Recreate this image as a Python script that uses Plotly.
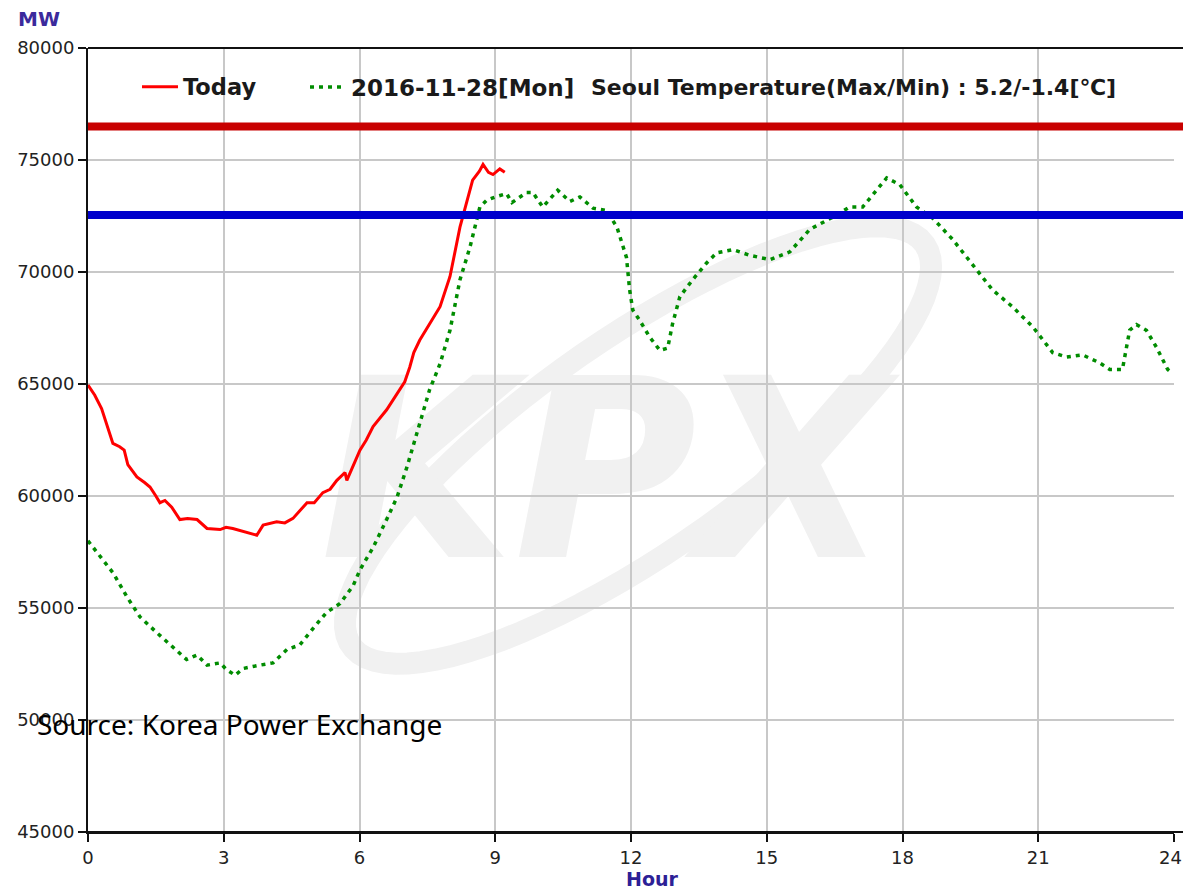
import numpy as np
import plotly.graph_objects as go

# ---------------- data ----------------
today_hours = [0.00, 0.15, 0.30, 0.45, 0.55, 0.70, 0.80, 0.88, 1.08, 1.25, 1.37, 1.50, 1.59, 1.70,
               1.85, 2.03, 2.20, 2.41, 2.63, 2.92, 3.05, 3.20, 3.45, 3.73, 3.87, 4.17, 4.35, 4.53,
               4.84, 5.00, 5.19, 5.35, 5.50, 5.68, 5.72, 6.01, 6.15, 6.30, 6.60, 6.89, 7.00, 7.11,
               7.20, 7.33, 7.55, 7.78, 8.00, 8.22, 8.50, 8.65, 8.73, 8.85, 8.95, 9.10, 9.21]
today_mw = [64950, 64500, 63900, 63000, 62350, 62200, 62050, 61400, 60850, 60600, 60400, 60000, 59700, 59800,
            59500, 58950, 59000, 58950, 58550, 58500, 58600, 58550, 58400, 58250, 58700, 58850, 58800, 59000,
            59700, 59700, 60150, 60300, 60700, 61050, 60700, 62050, 62500, 63100, 63850, 64750, 65100, 65750,
            66400, 66950, 67700, 68450, 69800, 72000, 74100, 74500, 74800, 74450, 74350, 74600, 74450]

prev_hours = [0.00, 0.04, 0.27, 0.56, 0.86, 1.15, 1.52, 1.89, 2.18, 2.41, 2.63, 2.92, 3.06, 3.25, 3.43,
              3.80, 4.09, 4.40, 4.68, 4.98, 5.27, 5.57, 5.86, 6.01, 6.30, 6.60, 6.83, 7.05, 7.33, 7.55,
              7.78, 8.00, 8.22, 8.44, 8.66, 8.81, 9.00, 9.25, 9.37, 9.69, 9.83, 10.05, 10.38, 10.65,
              10.87, 11.16, 11.46, 11.69, 11.90, 11.97, 12.04, 12.19, 12.41, 12.64, 12.81, 12.92,
              13.08, 13.36, 13.67, 13.89, 14.25, 14.62, 15.07, 15.51, 15.95, 16.46, 16.83, 17.12,
              17.65, 17.94, 18.31, 18.67, 19.11, 19.64, 19.99, 20.43, 20.88, 21.32, 21.63, 21.98,
              22.35, 22.58, 22.86, 23.02, 23.17, 23.39, 23.61, 23.86, 23.95]
prev_mw = [58000, 57900, 57300, 56550, 55500, 54600, 53900, 53250, 52700, 52900, 52450, 52550, 52250, 52000, 52300,
           52450, 52550, 53150, 53350, 54100, 54800, 55200, 56000, 56700, 57700, 58950, 59950, 61300, 63250, 64750,
           65900, 67400, 69650, 71100, 72900, 73200, 73350, 73500, 73100, 73550, 73550, 72900, 73650, 73150,
           73350, 72850, 72750, 72000, 70650, 69200, 68300, 67850, 67100, 66500, 66600, 67700,
           68900, 69650, 70400, 70850, 71000, 70750, 70550, 70900, 71900, 72450, 72900, 72900,
           74200, 73900, 72900, 72400, 71450, 70100, 69200, 68450, 67550, 66400, 66200, 66300,
           65950, 65650, 65650, 67400, 67650, 67400, 66650, 65650, 65500]

x_ticks = [0, 3, 6, 9, 12, 15, 18, 21, 24]
x_tick_labels = ["0", "3", "6", "9", "12", "15", "18", "21", ""]
x_edge_label = "24"          # last hour label, placed flush with the right edge
y_ticks = [45000, 50000, 55000, 60000, 65000, 70000, 75000, 80000]
y_tick_labels = ["45000", "50000", "55000", "60000", "65000", "70000", "75000", "80000"]
upper_level_mw = 76500
lower_level_mw = 72550

today_name = "Today"
prev_name = "2016-11-28[Mon]"
temperature_text = "Seoul Temperature(Max/Min) : 5.2/-1.4[℃]"
y_unit = "MW"
x_unit = "Hour"
source_text = "Source: Korea Power Exchange"
watermark_text = "KPX"

# ---------------- geometry (body margin is reset to 0 by post_script) ----------------
W, H = 1183, 890
PLOT_L, PLOT_R, PLOT_T, PLOT_B = 88, 1174, 48, 832      # window pixels
ML, MR, MT, MB = PLOT_L, W - PLOT_R, PLOT_T, H - PLOT_B
PW, PH = PLOT_R - PLOT_L, PLOT_B - PLOT_T


def px_to_paper(px, py):
    return (px - PLOT_L) / PW, (PLOT_B - py) / PH


fig = go.Figure()

fig.add_trace(go.Scatter(
    x=today_hours, y=today_mw, name=today_name, mode="lines",
    line=dict(color="#ff0000", width=3), showlegend=True, legend="legend"))
fig.add_trace(go.Scatter(
    x=prev_hours, y=prev_mw, name=prev_name, mode="lines",
    line=dict(color="#008c00", width=3.5, dash="4px,5px"), showlegend=True, legend="legend2"))

shapes = []
# watermark ellipse swoosh
cx, cy, a, b, th = 638, 445, 350, 106, np.deg2rad(35)
t = np.linspace(0, 2 * np.pi, 90)
ex = cx + a * np.cos(t) * np.cos(th) + b * np.sin(t) * np.sin(th)
ey = cy - a * np.cos(t) * np.sin(th) + b * np.sin(t) * np.cos(th)
pts = [px_to_paper(u, v) for u, v in zip(ex, ey)]
path = "M " + " L ".join(f"{u:.4f},{v:.4f}" for u, v in pts) + " Z"
shapes.append(dict(type="path", path=path, xref="paper", yref="paper",
                   line=dict(color="#f1f1f1", width=22), layer="below"))
# watermark letters
x0p, y0p = px_to_paper(328, 552)
x1p, y1p = px_to_paper(882, 352)
shapes.append(dict(type="rect", xref="paper", yref="paper", x0=x0p, x1=x1p, y0=y0p, y1=y1p,
                   line=dict(width=0), fillcolor="rgba(0,0,0,0)", layer="below",
                   label=dict(text=watermark_text, textposition="middle center",
                              font=dict(family="DejaVu Sans", size=250, color="#f1f1f1",
                                        weight="bold", style="italic"))))
# horizontal levels
xr = (W - PLOT_L) / PW
shapes.append(dict(type="line", xref="paper", yref="y", x0=0, x1=xr,
                   y0=upper_level_mw, y1=upper_level_mw, line=dict(color="#c80000", width=8)))
shapes.append(dict(type="line", xref="paper", yref="y", x0=0, x1=xr,
                   y0=lower_level_mw, y1=lower_level_mw, line=dict(color="#0000cc", width=8)))
# top border and bottom axis extension to the window edge
shapes.append(dict(type="line", xref="paper", yref="paper", x0=0, x1=xr,
                   y0=1, y1=1, line=dict(color="#111111", width=2)))
shapes.append(dict(type="line", xref="paper", yref="paper", x0=0, x1=xr,
                   y0=0, y1=0, line=dict(color="#111111", width=2)))

tick_font = dict(family="DejaVu Sans", size=18, color="#222222")

annotations = []
tx, ty = px_to_paper(589, 87)
annotations.append(dict(text=temperature_text, xref="paper", yref="paper", x=tx, y=ty,
                        xanchor="left", yanchor="middle", showarrow=False,
                        font=dict(family="DejaVu Sans", size=22, color="#1a1a1a", weight="bold")))
mx, my = px_to_paper(39, 19)
annotations.append(dict(text=y_unit, xref="paper", yref="paper", x=mx, y=my,
                        xanchor="center", yanchor="middle", showarrow=False,
                        font=dict(family="DejaVu Sans", size=20, color="#3b2a9c", weight="bold")))
hx, hy = px_to_paper(652, 879)
annotations.append(dict(text=x_unit, xref="paper", yref="paper", x=hx, y=hy,
                        xanchor="center", yanchor="middle", showarrow=False,
                        font=dict(family="DejaVu Sans", size=19, color="#2d2096", weight="bold")))
sx, sy = px_to_paper(35, 724)
annotations.append(dict(text=source_text, xref="paper", yref="paper", x=sx, y=sy,
                        xanchor="left", yanchor="middle", showarrow=False,
                        font=dict(family="Noto Sans", size=28, color="#000000")))
ex24, ey24 = px_to_paper(1183, 857)
annotations.append(dict(text=x_edge_label, xref="paper", yref="paper", x=ex24, y=ey24,
                        xanchor="right", yanchor="middle", showarrow=False,
                        borderpad=0, font=tick_font))

l1x, l1y = px_to_paper(137, 87)
l2x, l2y = px_to_paper(305, 87)
fig.update_layout(
    width=W, height=H,
    margin=dict(l=ML, r=MR, t=MT, b=MB, autoexpand=False),
    paper_bgcolor="white", plot_bgcolor="white",
    shapes=shapes, annotations=annotations,
    legend=dict(orientation="h", x=l1x, y=l1y, xanchor="left", yanchor="middle",
                bgcolor="rgba(0,0,0,0)", itemwidth=36,
                font=dict(family="DejaVu Sans", size=22.5, color="#1a1a1a", weight="bold")),
    legend2=dict(orientation="h", x=l2x, y=l2y, xanchor="left", yanchor="middle",
                 bgcolor="rgba(0,0,0,0)", itemwidth=36,
                 font=dict(family="DejaVu Sans", size=23, color="#1a1a1a", weight="bold")),
    xaxis=dict(range=[0, 24], tickvals=x_ticks, ticktext=x_tick_labels,
               showgrid=True, gridcolor="#c8c8c8", gridwidth=2,
               showline=True, linecolor="#111111", linewidth=2,
               ticks="outside", ticklen=8, tickwidth=2, tickcolor="#111111",
               tickfont=tick_font, zeroline=False, fixedrange=True),
    yaxis=dict(range=[45000, 80000], tickvals=y_ticks, ticktext=y_tick_labels,
               showgrid=True, gridcolor="#c8c8c8", gridwidth=2,
               showline=True, linecolor="#111111", linewidth=2,
               ticks="outside", ticklen=8, tickwidth=2, tickcolor="#111111",
               ticklabeloverflow="allow",
               tickfont=tick_font, zeroline=False, fixedrange=True),
)

fig.write_html("out.html",
               config={"displayModeBar": False},
               post_script="document.body.style.margin='0';document.body.style.overflow='hidden';")
